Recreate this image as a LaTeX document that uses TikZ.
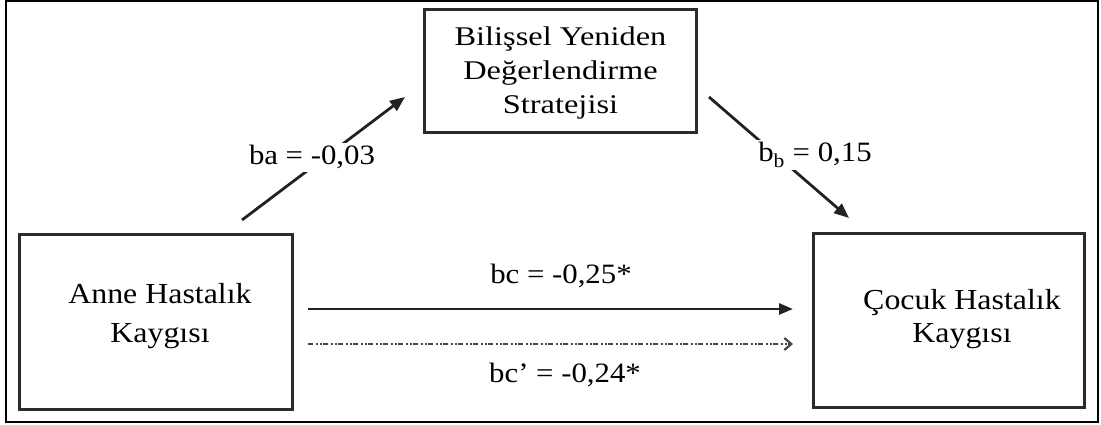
\documentclass[tikz,border=0pt]{standalone}
\usepackage{fontspec}
\setmainfont{Liberation Serif}[FakeStretch=1.1]
\newfontfamily\topfont{Liberation Serif}[FakeStretch=1.2]
\usetikzlibrary{arrows.meta}
\definecolor{boxgray}{HTML}{2B2B2B}
\definecolor{arrgray}{HTML}{222222}
\definecolor{dashgray}{HTML}{474747}
\begin{document}
\begin{tikzpicture}[x=1pt,y=-1pt,
  box/.style={draw=boxgray, line width=3.3pt, inner sep=0pt},
  boxtext/.style={align=center, inner sep=0pt},
  lbl/.style={fill=white, inner sep=3pt, font=\fontsize{28}{30}\selectfont, anchor=base},
  arr/.style={draw=arrgray, line width=2.8pt, -{Triangle[length=15pt,width=12pt]}},
  dasharr/.style={draw=dashgray, line width=2.5pt,
     dash pattern=on 5pt off 2.5pt on 2pt off 2.5pt on 2pt off 1pt,
     -{Straight Barb[length=7pt,width=12pt,line width=2.2pt]}}]
\useasboundingbox (0,0) rectangle (1101,425);
\draw[line width=2.2pt, black] (6,1.2) rectangle (1098,422);

% boxes
\node[box, minimum width=272pt, minimum height=123pt] (M) at (560.5,71) {};
\node[box, minimum width=273pt, minimum height=175pt] (X) at (156,322) {};
\node[box, minimum width=271pt, minimum height=174pt] (Y) at (949,320.5) {};

\node[boxtext, font=\topfont\fontsize{27}{34}\selectfont] (Mt) at (560.5,73) {Bilişsel Yeniden\\Değerlendirme\\Stratejisi};
\node[boxtext, font=\fontsize{29}{39}\selectfont] (Xt) at (160,316) {Anne Hastalık\\Kaygısı};
\node[boxtext, font=\fontsize{29}{33}\selectfont] (Yt) at (962,319) {Çocuk Hastalık\\Kaygısı};

% connector end points
\coordinate (a1) at (242,220);
\coordinate (a2) at (405,97);
\coordinate (b1) at (709,97);
\coordinate (b2) at (849,218);
\coordinate (c1) at (308,309);
\coordinate (c2) at (793,309);
\coordinate (d1) at (308,344);
\coordinate (d2) at (793,344);

\draw[arr] (a1) -- (a2);
\draw[arr] (b1) -- (b2);
\draw[arr, -{Triangle[length=14pt,width=11pt]}] (c1) -- (c2);
\draw[dasharr] (d1) -- (d2);

% labels
\node[lbl] (la) at (312,165) {ba = -0,03};
\node[lbl] (lb) at (815,162) {b\textsubscript{b} = 0,15};
\node[lbl, fill=none] (lc) at (561,283) {bc = -0,25*};
\node[lbl, fill=none] (ld) at (565,382) {bc’ = -0,24*};
\end{tikzpicture}
\end{document}
